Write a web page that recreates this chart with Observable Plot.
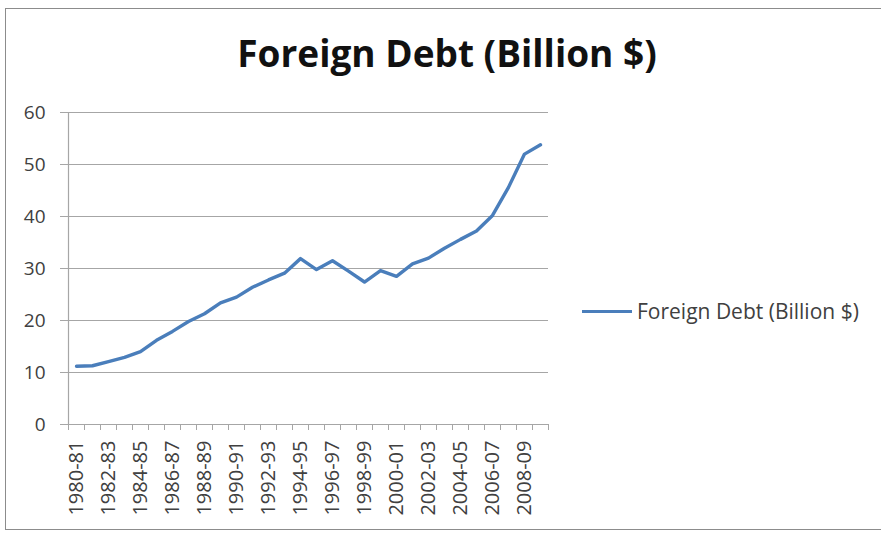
<!DOCTYPE html>
<html>
<head>
<meta charset="utf-8">
<script src="https://cdn.jsdelivr.net/npm/d3@7"></script>
<script src="https://cdn.jsdelivr.net/npm/@observablehq/plot@0.6"></script>
<style>
  body { margin: 0; background: #fff; }
  #wrap { position: relative; width: 881px; height: 533px; overflow: hidden; font-family: "Open Sans", sans-serif; background: #fff; }
  #frame { position: absolute; left: 5px; top: 8px; width: 900px; height: 522px; border: 1px solid #8c8c8c; box-sizing: border-box; }
  #chart { position: absolute; left: 0; top: 0; }
  #title { position: absolute; left: 0; width: 894px; top: 28px; text-align: center; font-weight: bold; font-size: 37px; line-height: 50px; color: #111; }
  #legend { position: absolute; left: 582px; top: 297px; height: 28px; display: flex; align-items: center; font-size: 21px; color: #404040; white-space: nowrap; }
  #legend .sw { width: 50px; height: 3px; background: #4a7ebb; margin-right: 5px; }
</style>
</head>
<body>
<div id="wrap">
  <div id="frame"></div>
  <div id="chart"></div>
  <div id="title">Foreign Debt (Billion $)</div>
  <div id="legend"><span class="sw"></span><span>Foreign Debt (Billion $)</span></div>
</div>
<script>
const categories = ["1980-81","1981-82","1982-83","1983-84","1984-85","1985-86","1986-87","1987-88","1988-89","1989-90",
  "1990-91","1991-92","1992-93","1993-94","1994-95","1995-96","1996-97","1997-98","1998-99","1999-00",
  "2000-01","2001-02","2002-03","2003-04","2004-05","2005-06","2006-07","2007-08","2008-09","2009-10"];
const debtValues = [11.2,11.3,12.1,12.9,14.0,16.2,17.9,19.8,21.3,23.4,
  24.5,26.4,27.8,29.1,31.9,29.8,31.5,29.5,27.4,29.6,
  28.5,30.9,32.0,33.9,35.6,37.2,40.2,45.6,52.0,53.8];
const yTicks = [0,10,20,30,40,50,60];
const seriesName = "Foreign Debt (Billion $)";

const data = categories.map((c, i) => ({i, category: c, value: debtValues[i]}));
const labelIdx = categories.map((c, i) => i).filter(i => i % 2 === 0);
const boundaries = d3.range(categories.length + 1).map(i => i - 0.5);

const gridColor = "#a6a6a6";
const chart = Plot.plot({
  width: 881, height: 533,
  marginLeft: 68, marginRight: 333, marginTop: 112, marginBottom: 109,
  style: {fontFamily: "'Open Sans', sans-serif", background: "transparent", color: "#404040"},
  x: {type: "linear", domain: [-0.5, categories.length - 0.5]},
  y: {domain: [0, 60]},
  marks: [
    Plot.gridY(yTicks.filter(t => t > 0), {stroke: gridColor, strokeOpacity: 1, strokeWidth: 1.2}),
    Plot.ruleY([0], {stroke: gridColor, strokeWidth: 1.2}),
    Plot.ruleX([-0.5], {y1: 0, y2: 60, stroke: gridColor, strokeWidth: 1.2}),
    Plot.axisY(yTicks, {tickSize: 8, tickPadding: 15, stroke: gridColor, fill: "#404040", fontSize: 19, label: null}),
    Plot.axisX(boundaries, {tickSize: 6, tickFormat: () => "", stroke: gridColor, label: null}),
    Plot.axisX(labelIdx, {tickSize: 0, tickPadding: 16, tickRotate: -90, tickFormat: i => categories[i], fill: "#404040", fontSize: 20, label: null}),
    Plot.line(data, {x: "i", y: "value", stroke: "#4a7ebb", strokeWidth: 3.4, strokeLinejoin: "round", strokeLinecap: "round"})
  ]
});
document.getElementById("chart").appendChild(chart);
</script>
</body>
</html>
